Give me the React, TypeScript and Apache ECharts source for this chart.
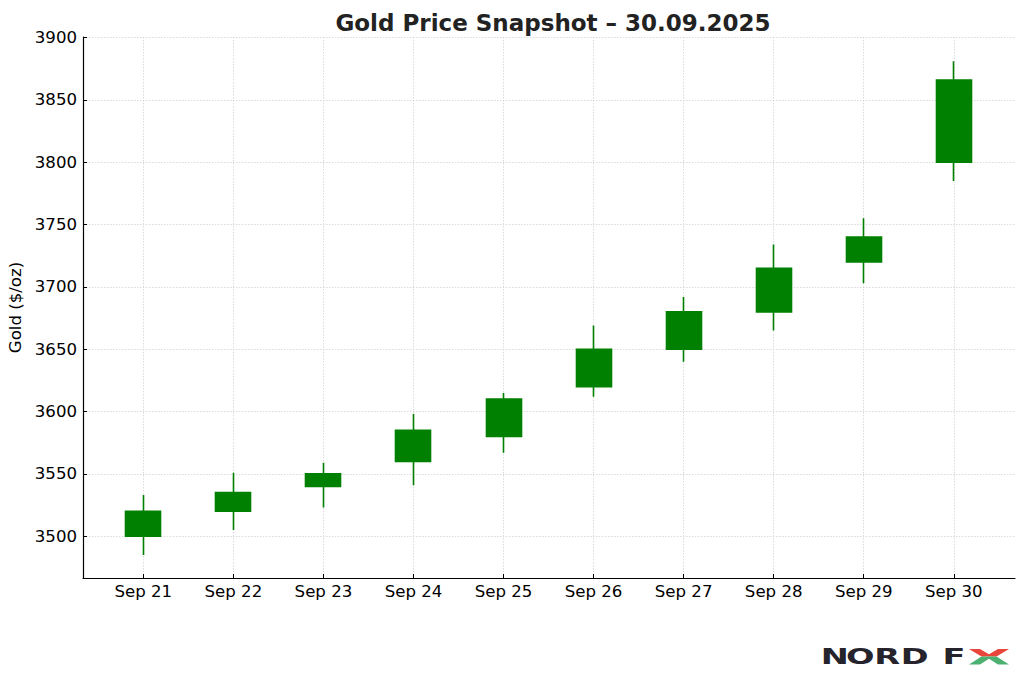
import React, { useEffect, useRef } from "react";
import * as echarts from "echarts";

const dates = ["Sep 21", "Sep 22", "Sep 23", "Sep 24", "Sep 25", "Sep 26", "Sep 27", "Sep 28", "Sep 29", "Sep 30"];
const openPrices = [3500, 3520, 3540, 3560, 3580, 3620, 3650, 3680, 3720, 3800];
const closePrices = [3520, 3535, 3550, 3585, 3610, 3650, 3680, 3715, 3740, 3866];
const lowPrices = [3485, 3505, 3523, 3541, 3567, 3612, 3640, 3665, 3703, 3785];
const highPrices = [3533, 3551, 3559, 3598, 3615, 3669, 3692, 3734, 3755, 3881];
const yTicks = [3500, 3550, 3600, 3650, 3700, 3750, 3800, 3850, 3900];
const xTicks = dates.map((_, i) => i);

const TITLE = "Gold Price Snapshot \u2013 30.09.2025";
const Y_NAME = "Gold ($/oz)";

export default function App() {
  const ref = useRef<HTMLDivElement>(null);

  useEffect(() => {
    if (!ref.current) return;
    const chart = echarts.init(ref.current, null, { renderer: "svg" });
    const font = "DejaVu Sans";
    const gridLine = { show: true, lineStyle: { color: "#d0d0d0", width: 0.8, type: [1.5, 1.5] } };
    const letterStyle = (t: string) => ({
      text: t,
      x: 0,
      y: 0,
      align: "center",
      verticalAlign: "middle",
      textAlign: "center",
      textVerticalAlign: "middle",
      font: "bold 21px 'DejaVu Sans'",
      fill: "#25232b",
    });
    const logoLetters = [
      { t: "N", cx: 834.7 },
      { t: "O", cx: 860.3 },
      { t: "R", cx: 887.3 },
      { t: "D", cx: 914.8 },
      { t: "F", cx: 954 },
    ];
    const option: any = {
      animation: false,
      backgroundColor: "#ffffff",
      textStyle: { fontFamily: font },
      title: {
        text: TITLE,
        left: 548,
        top: 6,
        textAlign: "center",
        textStyle: { fontFamily: font, fontWeight: "bold", fontSize: 23, color: "#222222" },
      },
      grid: { left: 83, right: 9, top: 37, bottom: 98, containLabel: false, outerBoundsMode: "none" },
      xAxis: {
        type: "value",
        min: -0.67,
        max: 9.68,
        axisLine: { show: true, onZero: false, lineStyle: { color: "#000000", width: 1.2 } },
        axisTick: { show: true, inside: true, length: 4, customValues: xTicks, lineStyle: { color: "#000000", width: 1 } },
        axisLabel: {
          show: true,
          customValues: xTicks,
          margin: 5,
          fontSize: 16.6,
          color: "#000000",
          fontFamily: font,
          formatter: (v: number) => dates[Math.round(v)] ?? "",
        },
        splitLine: gridLine,
      },
      yAxis: {
        type: "value",
        min: 3466.5,
        max: 3900.5,
        name: Y_NAME,
        nameLocation: "middle",
        nameRotate: 90,
        nameGap: 56,
        nameTextStyle: { fontFamily: font, fontSize: 16.6, color: "#000000" },
        axisLine: { show: true, onZero: false, lineStyle: { color: "#000000", width: 1.2 } },
        axisTick: { show: true, inside: true, length: 4, customValues: yTicks, lineStyle: { color: "#000000", width: 1 } },
        axisLabel: {
          show: true,
          customValues: yTicks,
          margin: 6,
          fontSize: 16.6,
          color: "#000000",
          fontFamily: font,
          formatter: (v: number) => String(Math.round(v)),
        },
        splitLine: gridLine,
      },
      series: [
        {
          type: "candlestick",
          barWidth: 35.5,
          data: dates.map((_, i) => [i, openPrices[i], closePrices[i], lowPrices[i], highPrices[i]]),
          itemStyle: {
            color: "#008000",
            color0: "#d62728",
            borderColor: "#008000",
            borderColor0: "#d62728",
            borderColorDoji: "#008000",
            borderWidth: 1.6,
          },
        },
      ],
      graphic: [
        ...logoLetters.map((l) => ({
          type: "text",
          x: l.cx,
          y: 657,
          scaleX: 1.6,
          scaleY: 1,
          style: letterStyle(l.t),
        })),
        {
          type: "polygon",
          shape: {
            points: [
              [969, 649],
              [980, 649],
              [989, 654.3],
              [998, 649],
              [1009, 649],
              [996.5, 656.5],
              [981.5, 656.5],
            ],
          },
          style: { fill: "#e8453c" },
        },
        {
          type: "polygon",
          shape: {
            points: [
              [981.5, 656.5],
              [996.5, 656.5],
              [1009, 664.5],
              [998, 664.5],
              [989, 658.7],
              [980, 664.5],
              [969, 664.5],
            ],
          },
          style: { fill: "#4cb070" },
        },
      ],
    };
    chart.setOption(option);
    return () => chart.dispose();
  }, []);

  return (
    <div
      ref={ref}
      style={{ position: "absolute", left: 0, top: 0, width: 1024, height: 676, background: "#ffffff" }}
    />
  );
}
